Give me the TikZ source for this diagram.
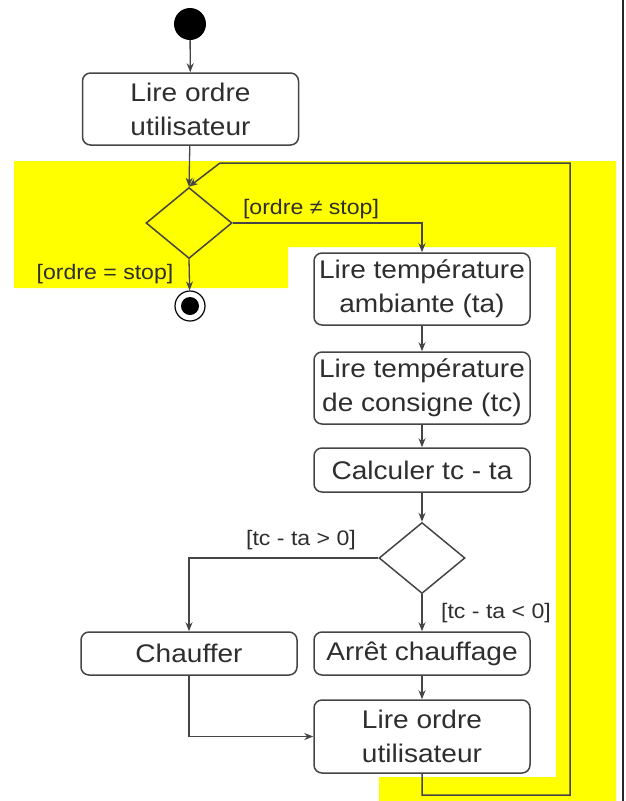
\documentclass[tikz,border=0pt]{standalone}
\usepackage{fontspec}
\setmainfont[FakeStretch=1.1]{Liberation Sans}
\usetikzlibrary{shapes.geometric,arrows.meta}
\definecolor{ink}{HTML}{2E2E2E}
\definecolor{edgec}{HTML}{454545}
\definecolor{hl}{HTML}{FFFF00}
\begin{document}
\begin{tikzpicture}[x=1pt,y=-1pt,
  actbox/.style={draw=edgec, line width=1.5pt, rounded corners=8pt, fill=white,
    minimum width=216pt, text=ink, font=\fontsize{25.5}{34}\selectfont, align=center, inner sep=0pt},
  decision/.style={draw=edgec, line width=1.5pt, diamond, fill=none, inner sep=0pt,
    minimum width=86pt, minimum height=71pt},
  guard/.style={text=ink, font=\fontsize{21}{24}\selectfont, inner sep=0pt},
  flow/.style={draw=edgec, line width=1.3pt, -{Stealth[length=9pt,width=7pt]}},
  plainline/.style={draw=edgec, line width=1.3pt}]
\useasboundingbox (0,0) rectangle (625,801);
% highlight
\fill[hl] (14,161) -- (616,161) -- (616,801) -- (379,801) -- (379,777) -- (556,777)
  -- (556,247) -- (288,247) -- (288,288) -- (14,288) -- cycle;
\draw[black!85, line width=1.5pt] (623,0) -- (623,801);
% nodes
\node[circle, fill=black, minimum size=32pt, inner sep=0pt] (start) at (190,24) {};
\node[actbox, minimum height=72pt] (lire1) at (190.5,109) {Lire ordre\\utilisateur};
\node[decision] (d1) at (189,223) {};
\node[circle, draw=black, line width=1.2pt, fill=white, minimum size=30pt, inner sep=0pt,
  path picture={\fill[black] (path picture bounding box.center) circle (9pt);}] (fin) at (190,306) {};
\node[actbox, minimum height=72pt] (ta) at (422,289) {Lire température\\ambiante (ta)};
\node[actbox, minimum height=72pt] (tc) at (422,388) {Lire température\\de consigne (tc)};
\node[actbox, minimum height=44pt] (calc) at (422,470) {Calculer tc - ta};
\node[decision] (d2) at (422,558) {};
\node[actbox, minimum height=43pt] (chauf) at (189,653.5) {Chauffer};
\node[actbox, minimum height=43pt] (arret) at (422,653.5) {Arrêt chauffage};
\node[actbox, minimum height=73pt] (lire2) at (422,736.5) {Lire ordre\\utilisateur};
% guards
\node[guard] (g1) at (311,209) {[ordre ≠ stop]};
\node[guard] (g2) at (105,274) {[ordre = stop]};
\node[guard] (g3) at (301,540) {[tc - ta > 0]};
\node[guard] (g4) at (496,613) {[tc - ta < 0]};
% loop corners
\coordinate (l1) at (422,795);
\coordinate (l2) at (570,795);
\coordinate (l3) at (570,163);
\coordinate (l4) at (220,163);
% connectors
\draw[flow] (start) -- (lire1);
\draw[flow] (lire1) -- (d1.north);
\draw[flow] (d1.east) -| (ta.north);
\draw[flow] (d1.south) -- (fin);
\draw[flow] (ta) -- (tc);
\draw[flow] (tc) -- (calc);
\draw[flow] (calc) -- (d2.north);
\draw[flow] (d2.west) -| (chauf.north);
\draw[flow] (d2.south) -- (arret.north);
\draw[flow] (arret) -- (lire2);
\draw[flow] (chauf.south) |- (lire2.west);
\draw[flow, line width=1.5pt] (lire2.south) -- (l1) -- (l2) -- (l3) -- (l4) -- (d1.north);
\end{tikzpicture}
\end{document}
